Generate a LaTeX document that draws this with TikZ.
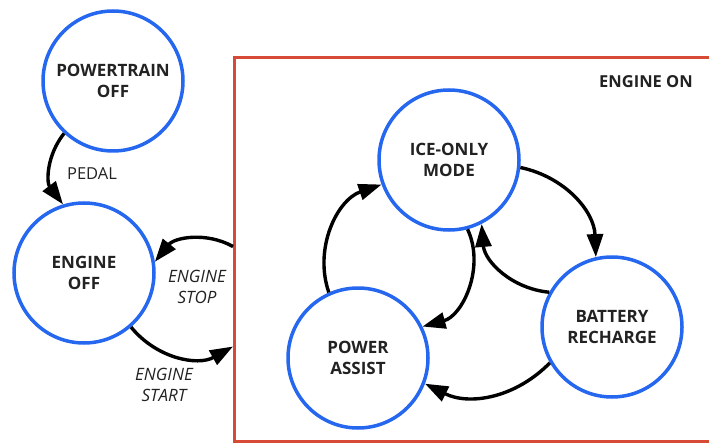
\documentclass[tikz,border=0pt]{standalone}
\usepackage{fontspec}
\setmainfont{Open Sans}
\usetikzlibrary{arrows.meta}
\definecolor{stateblue}{RGB}{38,103,240}
\definecolor{engonred}{RGB}{214,74,54}
\definecolor{textgray}{RGB}{34,34,34}

\begin{document}
\begin{tikzpicture}[x=1pt, y=1pt,
    state/.style={circle, draw=stateblue, line width=3.5pt, fill=white,
      minimum size=140pt, inner sep=0pt, align=center, text=textgray,
      font=\fontsize{17}{21.5}\selectfont\bfseries},
    trans/.style={line width=3.4pt, -{Triangle[length=23pt,width=16pt]}},
    lbl/.style={text=textgray, align=center,
      font=\fontsize{17}{21.5}\selectfont\itshape}]
  \useasboundingbox (0,0) rectangle (709,445);

  % Engine-on frame
  \node[draw=engonred, line width=3pt, minimum width=487pt, minimum height=384pt,
    inner sep=0pt, anchor=south west] (engon) at (233,2) {};
  \node[text=textgray, font=\fontsize{16.5}{20}\selectfont\bfseries] (engonlbl) at (646,363) {ENGINE ON};
  \coordinate (stopout) at ([yshift=3pt]engon.west);
  \coordinate (startin) at ([yshift=-97pt]engon.west);

  % States
  \node[state] (ptoff) at (113,364) {POWERTRAIN\\OFF};
  \node[state] (eoff)  at (84,172)  {ENGINE\\OFF};
  \node[state] (ice)   at (449,285) {ICE-ONLY\\MODE};
  \node[state] (pa)    at (358,87)  {POWER\\ASSIST};
  \node[state] (br)    at (612,118) {BATTERY\\RECHARGE};

  % Outer transitions
  \draw[trans] (ptoff.227) to[bend right=38] (eoff.107);
  \draw[trans] (stopout) to[bend right=40] (eoff.9);
  \draw[trans] (eoff.311) to[bend right=40] (startin);

  \node[text=textgray, font=\fontsize{16.5}{20}\selectfont] (pedal) at (92,271) {PEDAL};
  \node[lbl] (stoplbl)  at (197,158) {ENGINE\\STOP};
  \node[lbl] (startlbl) at (164,60)  {ENGINE\\START};

  % Engine-on transitions
  \draw[trans] (ice.354) to[bend left=38] (br.103);
  \draw[trans] (br.151)  to[bend left=40] (ice.297);
  \draw[trans] (br.210)  to[bend left=36] (pa.339);
  \draw[trans] (pa.114)  to[bend left=45] (ice.200);
  \draw[trans] (ice.285) to[bend left=50] (pa.26);
\end{tikzpicture}
\end{document}
